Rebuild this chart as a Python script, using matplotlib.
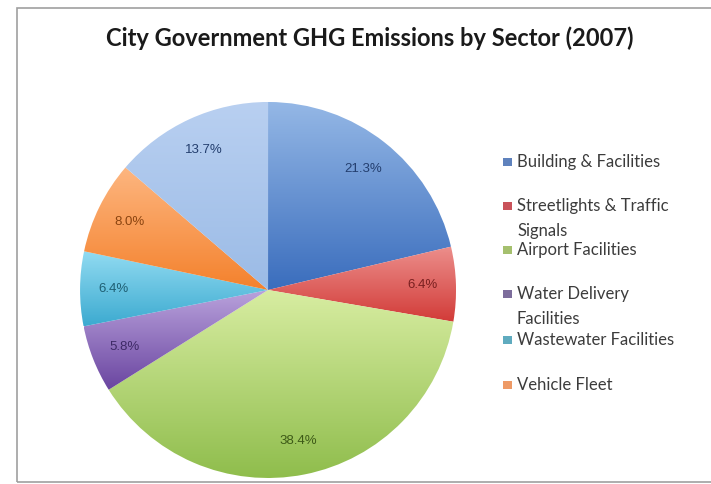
import numpy as np
import matplotlib
matplotlib.use('Agg')
import matplotlib.pyplot as plt
from matplotlib.colors import LinearSegmentedColormap
from matplotlib.patches import Rectangle

# data
sectors = ['Building & Facilities', 'Streetlights & Traffic\nSignals',
           'Airport Facilities', 'Water Delivery\nFacilities',
           'Wastewater Facilities', 'Vehicle Fleet', 'Other']
shares = [21.3, 6.4, 38.4, 5.8, 6.4, 8.0, 13.7]

# gradient colours: top (light) -> bottom (dark)
tops = ['#95b8e6', '#ec8f8c', '#d8eda2', '#b9a2dc', '#93dcf2', '#fdb680', '#b9d0f1']
bottoms = ['#3a6dbd', '#d23b38', '#8fbd4c', '#6a45a0', '#3caad0', '#f4812c', '#9bbbe6']
label_cols = ['#233e6e', '#7a2020', '#3d5a17', '#3e2a66', '#1f5f73', '#8a4410', '#233e6e']
legend_cols = ['#5f82bd', '#c9525a', '#a5c06e', '#7d6d9c', '#5fabbf', '#ee9a66']

fig = plt.figure(figsize=(7.11, 4.84), dpi=100)
fig.patch.set_facecolor('white')

# chart frame
fig.add_artist(Rectangle((17 / 711, 2 / 484), 1.0, 474 / 484, transform=fig.transFigure,
                         fill=False, edgecolor='#a0a0a0', linewidth=1.2))

ax = fig.add_axes([0.1126, 0.0124, 0.5288, 0.7769])
wedges, texts = ax.pie(shares, startangle=90, counterclock=False, radius=1,
                       labels=[f'{v:.1f}%' for v in shares], labeldistance=0.82,
                       wedgeprops=dict(linewidth=0))
ax.set_aspect('equal')
ax.axis('off')

grad = np.linspace(0, 1, 256).reshape(-1, 1)
for w, c0, c1, t, lc in zip(wedges, tops, bottoms, texts, label_cols):
    w.set_facecolor('none')
    ext = w.get_path().get_extents()
    cmap = LinearSegmentedColormap.from_list('g', [c0, c1])
    im = ax.imshow(grad, cmap=cmap, aspect='auto', origin='upper',
                   extent=[ext.x0, ext.x1, ext.y0, ext.y1], zorder=1)
    im.set_clip_path(w)
    t.set_color(lc)
    t.set_fontsize(9.5)
    t.set_fontfamily('Liberation Sans')
    t.set_ha('center')
    t.set_va('center')
    t.set_zorder(3)
ax.set_xlim(-1, 1)
ax.set_ylim(-1, 1)

fig.text(0.52, 0.922, 'City Government GHG Emissions by Sector (2007)',
         ha='center', va='center', fontsize=17, fontweight='bold',
         family='Lato', color='#1a1a1a')

# legend (six named sectors), one text per line
leg_y = [162, 206, 250, 294, 340, 385]
for name, col, y in zip(sectors[:6], legend_cols, leg_y):
    fig.add_artist(Rectangle((503 / 711, 1 - (y + 4) / 484), 9 / 711, 8 / 484,
                             transform=fig.transFigure, facecolor=col, edgecolor='none'))
    for k, line in enumerate(name.split('\n')):
        fig.text(517 / 711, 1 - (y + 25 * k) / 484, line, ha='left', va='center',
                 fontsize=12, family='Lato', color='#3c3c3c')

fig.savefig('out.png', dpi=100)
